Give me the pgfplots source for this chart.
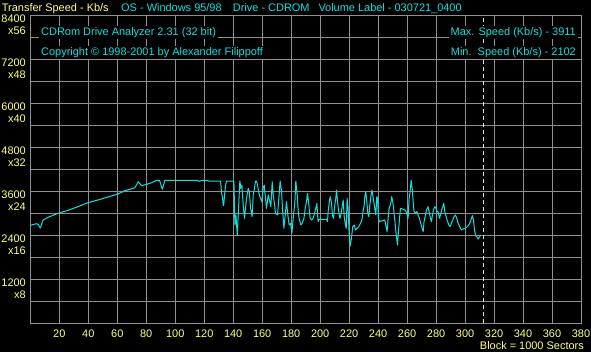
\documentclass[border=0pt]{standalone}
\usepackage{fontspec}
\setmainfont{Liberation Sans}
\usepackage{pgfplots}
\pgfplotsset{compat=1.18}
\definecolor{gridgray}{HTML}{909090}
\definecolor{ylw}{HTML}{FFFF80}
\definecolor{cyn}{HTML}{10E0E0}
\definecolor{dashc}{HTML}{E0E0E0}
\newcommand\Lab[2]{\begin{tabular}[t]{@{}r@{}}#1\\#2\end{tabular}}
\begin{document}
\begin{tikzpicture}[font=\fontsize{11}{12}\selectfont]
\useasboundingbox (0,0) rectangle (591bp,352bp);
\fill[black] (0,0) rectangle (591bp,352bp);
\begin{axis}[
  at={(30.3bp,28.7bp)}, anchor=south west,
  scale only axis, width=550.7bp, height=308bp,
  xmin=0, xmax=380, ymin=0, ymax=8400,
  axis line style={gridgray, line width=1bp},
  xtick={20,40,60,80,100,120,140,160,180,200,220,240,260,280,300,320,340,360,380},
  xticklabels={20,40,60,80,100,120,140,160,180,200,220,240,260,280,300,320,340,360,380},
  ytick={1200,2400,3600,4800,6000,7200,8400},
  yticklabels={\Lab{1200}{x8},\Lab{2400}{x16},\Lab{3600}{x24},\Lab{4800}{x32},\Lab{6000}{x40},\Lab{7200}{x48},\Lab{8400}{x56}},
  minor ytick={600,1800,3000,4200,5400,6600,7800},
  grid=both,
  major grid style={gridgray, line width=1bp},
  minor grid style={gridgray, line width=1bp},
  major tick length=0pt, minor tick length=0pt,
  tick style={draw=none},
  xticklabel style={text=ylw, inner sep=0pt, anchor=base, yshift=-14.4bp, font=\fontsize{11}{12}\selectfont},
  yticklabel style={text=ylw, inner sep=0pt, anchor=base east, xshift=-4.3bp, yshift=-7bp, font=\fontsize{11}{12}\selectfont},
  clip=true,
]
\addplot[cyn, line width=1bp, line join=round, mark=none] coordinates {
(0,2672) (4.2,2717) (5.3,2699) (6.9,2599) (8.8,2817) (12.2,2890) (19.1,2999) (26,3081) (32.9,3181) (39.8,3290) (46.7,3363) (53.6,3445) (60.5,3526) (65.3,3617) (68.8,3654) (72.2,3699) (74.5,3863) (76.8,3754) (80.3,3790) (83.7,3835) (87.2,3899) (89.2,3890) (91.1,3654) (92.9,3899) (115.4,3899) (116.3,3872) (118.6,3899) (122.3,3899) (123.2,3881) (131.3,3881) (132,3545) (132.7,3408) (133.1,3226) (133.4,3208) (134.1,3517) (134.7,3754) (135.4,3881) (140.5,3881)
(141.2,2681) (141.9,2954) (142.8,2408) (143.7,3136) (144.6,3881) (145.3,3681) (146,3772) (146.9,3226) (147.8,2863) (148.5,3136) (149.2,3408) (150.4,3681) (151.1,3590) (152,3136) (153.1,2908) (153.8,3499) (154.7,3681) (155.4,3881) (156.1,3881) (156.8,3772) (157.5,3590) (158.4,3454) (159.8,3317) (160.7,3681) (161.4,3772) (162.3,3408) (163,3136) (164.2,3499) (165.3,3317) (166,3181) (166.9,3863) (167.6,3499) (168.3,3317) (169.2,2999) (170.6,2954) (171.5,3408) (172.4,3881) (173.4,3590) (174,3136) (175,2590) (175.9,2954) (176.8,3317) (177.7,2954) (178.6,2681) (179.6,2726) (180.5,2454) (181.4,2863) (182.6,3317) (183.2,3881) (184.2,3499) (184.9,3045) (185.5,2863) (186.7,2681) (187.6,2726) (188.8,2863) (189.7,3136) (190.6,3317) (191.3,3545) (192.2,3226) (193.1,2863) (194.1,2817) (195.2,2863) (196.1,2999) (197,3136) (197.7,3272) (198.6,2772) (199.3,2836) (204.4,2836) (205.1,2772)
(205.5,3045) (206.5,3363) (207.1,3454) (207.8,3272) (208.5,2954) (209.2,2863) (210.1,3226) (210.8,3408) (211.3,3635) (212,3317) (212.7,3090) (213.6,2863) (214.3,2954) (215.2,3181) (215.9,3363) (216.6,2908) (217.3,2726) (218,2590) (218.6,3408) (219.3,3136) (220,2454) (220.7,2102) (221.6,2317) (222.5,2636) (223.5,2681) (224.4,2545) (225.5,2590) (226.7,2636) (227.8,2726) (228.8,2817) (229.4,2999) (230.4,3226) (230.8,3454) (231.5,3590) (232.2,3317) (232.9,2999) (233.6,2908) (234.3,3226) (235,3454) (235.7,3635) (236.3,3499) (237,3317) (237.7,3136) (238.4,2954) (239.1,3454) (239.6,3408) (240.2,2863) (240.9,2772) (242.3,2790) (244.6,2817) (245.5,2636) (246.2,2499) (246.9,2863) (247.6,3136) (248.8,3272) (249.4,3454) (250.1,3317) (250.8,3090) (251.5,2817) (252.4,2454) (253.4,2135) (254,2499) (254.7,2817) (255.4,3136) (257.3,3108) (258.9,3081) (259.8,2999) (260.7,2863) (261.4,3408) (262.1,3590) (262.8,3908) (263.5,3681) (264.2,3317) (264.8,3045)
(265.8,2999) (266.7,3045) (267.6,2954) (268.5,2863) (269.4,2726) (270.4,2590) (271.1,2499) (271.7,2772) (272.7,2954) (273.4,3090) (274.5,3181) (275.2,3045) (276.1,2863) (276.8,2772) (277.5,2954) (278.2,3090) (279.1,3181) (280,3136) (280.7,3045) (281.4,3045) (282.3,2863) (283,2954) (283.9,3090) (284.6,3181) (285.3,3272) (286,3045) (286.7,2954) (287.6,2817) (288.8,2681) (289.7,2636) (290.6,2726) (291.5,2817) (292.4,2908) (293.4,2954) (294.3,2863) (295.2,2726) (296.3,2636) (297.5,2545) (298.6,2572) (299.8,2590) (301.6,2636) (302.8,2699) (303.7,2772) (304.4,2863) (305.1,2936) (305.8,2817) (306.5,2545) (307.2,2408) (308.1,2363) (309,2299) (310.1,2363) (310.8,2408)
};
\addplot[dashc, line width=1bp, dash pattern=on 4bp off 3bp, mark=none] coordinates {(312.4,0) (312.4,8400)};
\end{axis}
% header
\node[anchor=base west, inner sep=0pt, text=ylw] at (1.7bp,340.3bp) {Transfer Speed - Kb/s};
\node[anchor=base west, inner sep=0pt, text=cyn] at (121bp,340.3bp) {OS - Windows 95/98};
\node[anchor=base west, inner sep=0pt, text=cyn] at (232.7bp,340.3bp) {Drive - CDROM};
\node[anchor=base west, inner sep=0pt, text=cyn] at (318.3bp,340.3bp) {Volume Label - 030721\_0400};
% in-plot texts
\node[anchor=base west, inner xsep=2bp, inner ysep=1.5bp, fill=black, text=cyn] at (39bp,316.3bp) {CDRom Drive Analyzer 2.31 (32 bit)};
\node[anchor=base west, inner xsep=2bp, inner ysep=1.5bp, fill=black, text=cyn] at (39bp,296.3bp) {Copyright \textcopyright{} 1998-2001 by Alexander Filippoff};
\node[anchor=base east, inner xsep=2bp, inner ysep=1.5bp, fill=black, text=cyn] at (578bp,316.3bp) {Max. Speed (Kb/s) - 3911};
\node[anchor=base east, inner xsep=2bp, inner ysep=1.5bp, fill=black, text=cyn] at (578bp,296.3bp) {Min.\ \ Speed (Kb/s) - 2102};
% footer
\node[anchor=base east, inner sep=0pt, text=ylw] at (584bp,3bp) {Block = 1000 Sectors};
\end{tikzpicture}
\end{document}
